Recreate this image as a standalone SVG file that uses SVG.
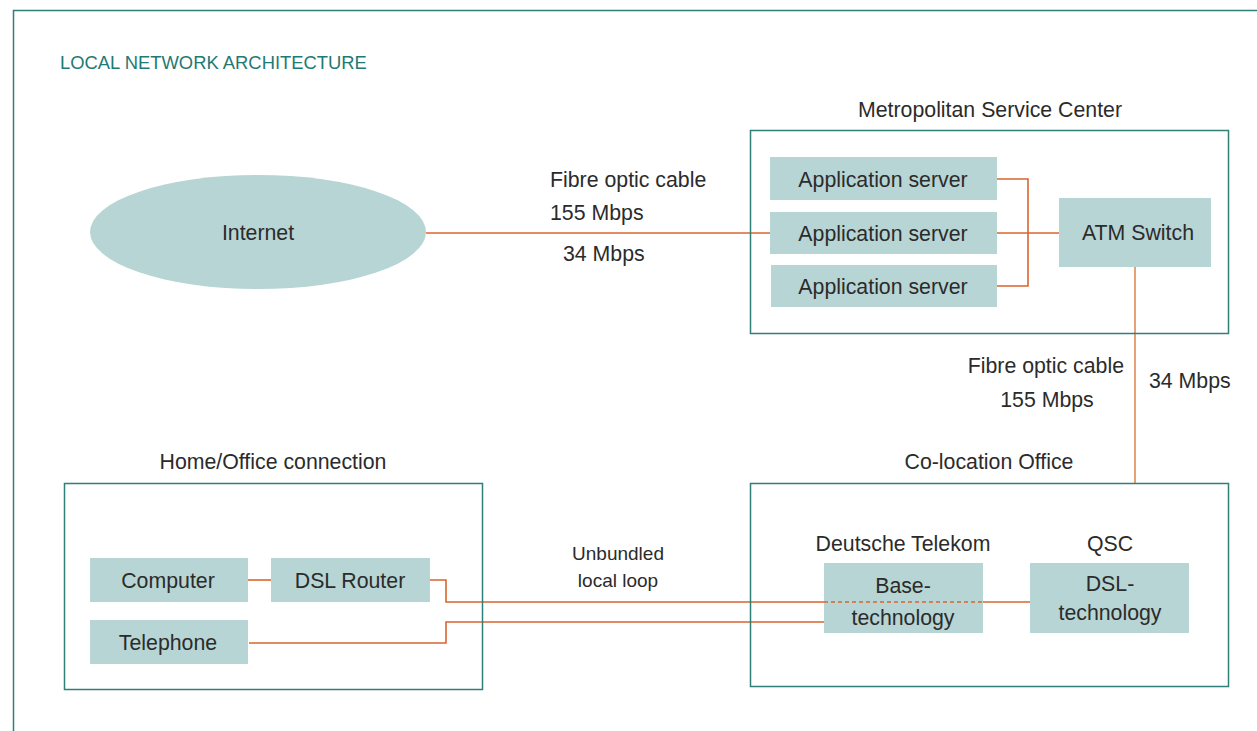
<svg xmlns="http://www.w3.org/2000/svg" width="1257" height="731" viewBox="0 0 1257 731">
<style>
.t{font-family:"Liberation Sans",Arial,sans-serif;font-size:21.3px;fill:#2b2b2b}
.c{text-anchor:middle}
.s{font-size:19px}
.frame{fill:none;stroke:#2f8079;stroke-width:1.5}
.box{fill:#b7d5d4}
.ln{fill:none;stroke:#d9662e;stroke-width:1.6}
</style>
<rect width="1257" height="731" fill="#ffffff"/>
<path d="M13.5,735 V10.5 H1260" class="frame"/>
<text x="60" y="69" class="t" style="fill:#1f7a73;font-size:18.4px">LOCAL NETWORK ARCHITECTURE</text>

<g id="connectors">
<path class="ln" d="M426,233 H770"/>
<path class="ln" d="M997,179 H1028 V286 H997"/>
<path class="ln" d="M997,233 H1059"/>
<path class="ln" d="M1135,267 V483" style="stroke:#e08a55"/>
<path class="ln" d="M248,580 H271"/>
<path class="ln" d="M430,580 H446 V602 H824"/>
<path class="ln" d="M983,602 H1030"/>
<path class="ln" d="M249,643 H446 V622 H824"/>
</g>

<g id="internet">
<ellipse cx="258" cy="232" rx="168" ry="57" class="box"/>
<text x="258" y="240" class="t c">Internet</text>
</g>

<g id="link-labels">
<text x="550" y="187" class="t">Fibre optic cable</text>
<text x="550" y="220" class="t">155 Mbps</text>
<text x="563" y="261" class="t">34 Mbps</text>
<text x="1124" y="373" class="t" text-anchor="end">Fibre optic cable</text>
<text x="1047" y="407" class="t c">155 Mbps</text>
<text x="1149" y="388" class="t">34 Mbps</text>
<text x="618" y="560" class="t c s">Unbundled</text>
<text x="618" y="587" class="t c s">local loop</text>
</g>

<g id="msc">
<rect x="750.5" y="130.5" width="478" height="203" class="frame"/>
<text x="990" y="117" class="t c">Metropolitan Service Center</text>
</g>
<g id="app1"><rect x="770" y="157" width="227" height="43" class="box"/><text x="883" y="187" class="t c">Application server</text></g>
<g id="app2"><rect x="770" y="212" width="227" height="42" class="box"/><text x="883" y="241" class="t c">Application server</text></g>
<g id="app3"><rect x="771" y="265" width="226" height="42" class="box"/><text x="883" y="294" class="t c">Application server</text></g>
<g id="atm"><rect x="1059" y="198" width="152" height="69" class="box"/><text x="1138" y="240" class="t c">ATM Switch</text></g>

<g id="colo">
<rect x="750.5" y="483.5" width="478" height="203" class="frame"/>
<text x="989" y="469" class="t c">Co-location Office</text>
<text x="903" y="551" class="t c">Deutsche Telekom</text>
<text x="1110" y="551" class="t c">QSC</text>
</g>
<g id="base"><rect x="824" y="563" width="159" height="70" class="box"/>
<path class="ln" d="M824,602 H983" style="stroke-dasharray:4 3"/>
<text x="903" y="593" class="t c">Base-</text><text x="903" y="625" class="t c">technology</text></g>
<g id="dsltech"><rect x="1030" y="563" width="159" height="70" class="box"/><text x="1110" y="591" class="t c">DSL-</text><text x="1110" y="620" class="t c">technology</text></g>

<g id="home">
<rect x="64.5" y="483.5" width="418" height="206" class="frame"/>
<text x="273" y="469" class="t c">Home/Office connection</text>
</g>
<g id="computer"><rect x="90" y="558" width="158" height="44" class="box"/><text x="168" y="588" class="t c">Computer</text></g>
<g id="router"><rect x="271" y="558" width="159" height="44" class="box"/><text x="350" y="588" class="t c">DSL Router</text></g>
<g id="telephone"><rect x="90" y="620" width="158" height="44" class="box"/><text x="168" y="650" class="t c">Telephone</text></g>
</svg>
